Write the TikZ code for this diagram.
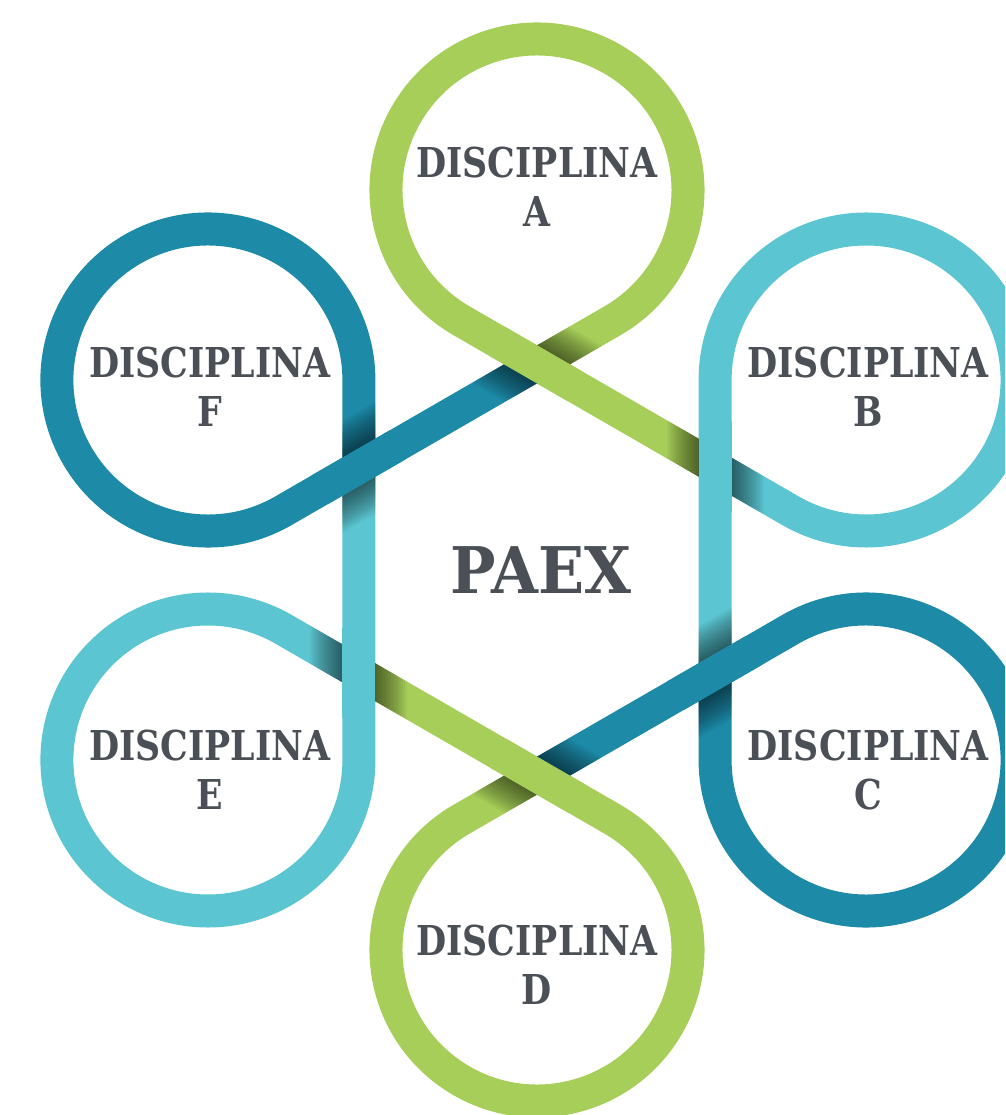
\documentclass[tikz,border=0pt]{standalone}
\usepackage{fontspec}
\newfontfamily\slabfont[FakeStretch=0.845]{DejaVu Serif}
\newfontfamily\slabwidefont[FakeStretch=0.94]{DejaVu Serif}
\usepackage{tikz}
\usetikzlibrary{calc}
\usetikzlibrary{positioning}

\definecolor{paexgreen}{HTML}{A6CE59}
\definecolor{paexlight}{HTML}{5BC5D1}
\definecolor{paexdark}{HTML}{1D8AA8}
\definecolor{paextext}{HTML}{4B5056}

\tikzset{
  ribbon/.style={line width=0.33cm,line cap=butt},
  disclabel/.style={font=\slabfont\bfseries\fontsize{11.7}{13.9}\selectfont,text=paextext,align=center},
  paexlabel/.style={font=\slabwidefont\bfseries\fontsize{18.3}{20}\selectfont,text=paextext}
}

% shadow on the ribbon that runs under: #1 crossing, #2 angle of under band, #3 angle of over band
\newcommand{\crossshadow}[3]{%
  \begin{scope}
    \clip[shift={(#1)},rotate=#2] (-90,-16.5) rectangle (90,16.5);
    \foreach \s in {2,4,...,32}{
      \fill[black,opacity=0.038,shift={(#1)},rotate=#3] (-90,16.5) rectangle (90,16.5+\s);
      \fill[black,opacity=0.038,shift={(#1)},rotate=#3] (-90,-16.5) rectangle (90,-16.5-\s);
    }
  \end{scope}}

\begin{document}
\begin{tikzpicture}[x=0.01cm,y=0.01cm]

\coordinate (CENTER) at (0,0);
\useasboundingbox (-537,-545) rectangle (468,570);
\clip (-537,-545) rectangle (468,570);

%%%%%%%%%%%%%%%%%%%%%

%circle centres on the hexagon
\coordinate (CIRCLEA) at ($(CENTER)+(90:380)$);
\coordinate (CIRCLEB) at ($(CENTER)+(30:380)$);
\coordinate (CIRCLEC) at ($(CENTER)+(-30:380)$);
\coordinate (CIRCLED) at ($(CENTER)+(-90:380)$);
\coordinate (CIRCLEE) at ($(CENTER)+(210:380)$);
\coordinate (CIRCLEF) at ($(CENTER)+(150:380)$);

%tangent points where the straight parts leave the circles
\coordinate (A1) at ($(CIRCLEA)+(240:151)$);
\coordinate (A2) at ($(CIRCLEA)+(-60:151)$);
\coordinate (F1) at ($(CIRCLEF)+(-60:151)$);
\coordinate (F2) at ($(CIRCLEF)+(0:151)$);
\coordinate (E1) at ($(CIRCLEE)+(0:151)$);
\coordinate (E2) at ($(CIRCLEE)+(60:151)$);
\coordinate (D1) at ($(CIRCLED)+(60:151)$);
\coordinate (D2) at ($(CIRCLED)+(120:151)$);
\coordinate (C1) at ($(CIRCLEC)+(120:151)$);
\coordinate (C2) at ($(CIRCLEC)+(180:151)$);
\coordinate (B1) at ($(CIRCLEB)+(180:151)$);
\coordinate (B2) at ($(CIRCLEB)+(240:151)$);

%crossings
\coordinate (X1) at (intersection of A2--F1 and B2--A1);
\coordinate (X2) at (intersection of A2--F1 and F2--E1);
\coordinate (X3) at (intersection of F2--E1 and E2--D1);
\coordinate (X4) at (intersection of E2--D1 and D2--C1);
\coordinate (X5) at (intersection of D2--C1 and C2--B1);
\coordinate (X6) at (intersection of C2--B1 and B2--A1);

%%%%%%%%%%%%%%%%%%%%%

%draw the ribbon, one colour from crossing to crossing
\draw[ribbon,paexgreen] (X6) -- (A1) arc[start angle=240,end angle=-60,radius=151] -- (X1);
\draw[ribbon,paexdark] (X1) -- (F1) arc[start angle=-60,end angle=-360,radius=151] -- (X2);
\draw[ribbon,paexlight] (X2) -- (E1) arc[start angle=0,end angle=-300,radius=151] -- (X3);
\draw[ribbon,paexgreen] (X3) -- (D1) arc[start angle=60,end angle=-240,radius=151] -- (X4);
\draw[ribbon,paexdark] (X4) -- (C1) arc[start angle=120,end angle=-180,radius=151] -- (X5);
\draw[ribbon,paexlight] (X5) -- (B1) arc[start angle=180,end angle=-120,radius=151] -- (X6);

%%%%%%%

%shadows under the crossings, then the upper band again
\crossshadow{X1}{30}{150}
\draw[ribbon,paexgreen] ($(X1)+(150:45)$) -- ($(X1)+(-30:45)$);

\crossshadow{X2}{90}{30}
\draw[ribbon,paexdark] ($(X2)+(30:45)$) -- ($(X2)+(210:45)$);

\crossshadow{X3}{-30}{90}
\draw[ribbon,paexlight] ($(X3)+(90:45)$) -- ($(X3)+(-90:45)$);

\crossshadow{X4}{30}{-30}
\draw[ribbon,paexgreen] ($(X4)+(150:45)$) -- ($(X4)+(-30:45)$);

\crossshadow{X5}{90}{30}
\draw[ribbon,paexdark] ($(X5)+(30:45)$) -- ($(X5)+(210:45)$);

\crossshadow{X6}{150}{90}
\draw[ribbon,paexlight] ($(X6)+(90:45)$) -- ($(X6)+(-90:45)$);

%%%%%%%%%%%%%%%%%%%
%draw labels

\node[disclabel] at ($(CIRCLEA)+(0,3)$) (LABELA) {DISCIPLINA\\A};
\node[disclabel] at ($(CIRCLEB)+(2,-7)$) (LABELB) {DISCIPLINA\\B};
\node[disclabel] at ($(CIRCLEC)+(2,-10)$) (LABELC) {DISCIPLINA\\C};
\node[disclabel] at ($(CIRCLED)+(0,-15)$) (LABELD) {DISCIPLINA\\D};
\node[disclabel] at ($(CIRCLEE)+(2,-10)$) (LABELE) {DISCIPLINA\\E};
\node[disclabel] at ($(CIRCLEF)+(2,-7)$) (LABELF) {DISCIPLINA\\F};

\node[paexlabel] at ($(CENTER)+(4,0)$) (PAEX) {PAEX};

%%%%%%%%%%%%%%%%%%%%%%

\end{tikzpicture}
\end{document}
